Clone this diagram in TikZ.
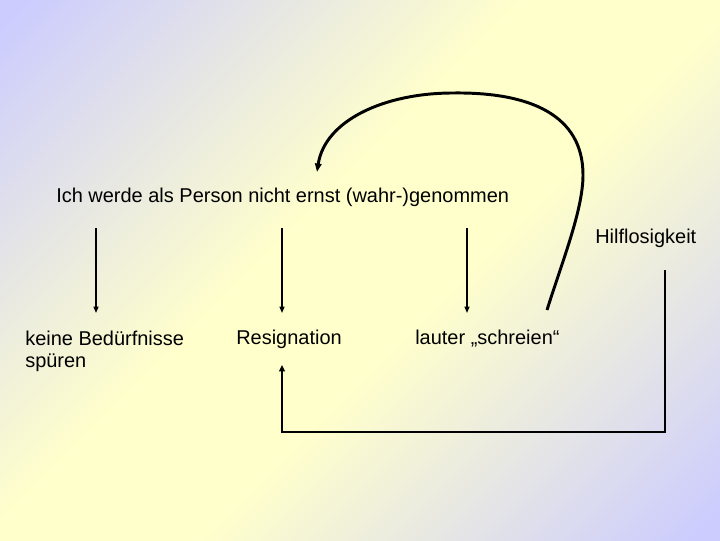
\documentclass[tikz,border=0pt]{standalone}
\usepackage{fontspec}
\setmainfont{Liberation Sans}
\usetikzlibrary{arrows.meta}

\definecolor{lavend}{RGB}{204,204,255}
\definecolor{paleyel}{RGB}{255,255,204}
\pgfdeclarehorizontalshading{slidebg}{100bp}{color(0bp)=(lavend); color(16bp)=(lavend); color(44bp)=(paleyel); color(56bp)=(paleyel); color(84bp)=(lavend); color(100bp)=(lavend)}

\begin{document}
\begin{tikzpicture}[x=0.025cm,y=0.025cm,
    font=\fontsize{14.2}{15.8}\selectfont,
    lbl/.style={anchor=west,inner sep=0pt,align=left},
    thin arrow/.style={line width=1pt,-{Triangle[length=4.5pt,width=3.5pt]}},
    thick line/.style={line width=2.1pt}]
    % Background
    \shade[shading=slidebg,shading angle=-45] (0,0) rectangle (720,540);
    \useasboundingbox (0,0) rectangle (720,540);

    % Texts
    \node[lbl] (person) at (56,343) {Ich werde als Person nicht ernst (wahr-)genommen};
    \node[lbl] (hilflos) at (595,302) {Hilflosigkeit};
    \node[lbl] (keine) at (25,189) {keine Bedürfnisse\\spüren};
    \node[lbl] (resign) at (236,201) {Resignation};
    \node[lbl] (laut) at (415,201) {lauter „schreien“};

    % Ends of the connectors
    \coordinate (k0) at (96,312);
    \coordinate (k1) at (96,227);
    \coordinate (r0) at (282,312);
    \coordinate (r1) at (282,227);
    \coordinate (l0) at (467,312);
    \coordinate (l1) at (467,227);
    \coordinate (s0) at (547,230);
    \coordinate (s1) at (583,365);
    \coordinate (s2) at (453,447);
    \coordinate (p0) at (317,368);
    \coordinate (h0) at (665,270);
    \coordinate (h1) at (665,108);
    \coordinate (r2) at (282,175);

    % Three reactions
    \draw[thin arrow] (k0) -- (k1);
    \draw[thin arrow] (r0) -- (r1);
    \draw[thin arrow] (l0) -- (l1);

    % Loop back to the top
    \draw[thick line,-{Triangle[length=6pt,width=4.5pt]}] (s0)
    .. controls (562,278) and (583,330) .. (s1)
    .. controls (583,425) and (530,448) .. (s2)
    .. controls (385,447) and (325,420) .. (p0);

    % Hilflosigkeit leads to Resignation
    \draw[thick line,-{Triangle[length=4.5pt,width=4pt]}] (h0) -- (h1) -| (r2);
\end{tikzpicture}
\end{document}
